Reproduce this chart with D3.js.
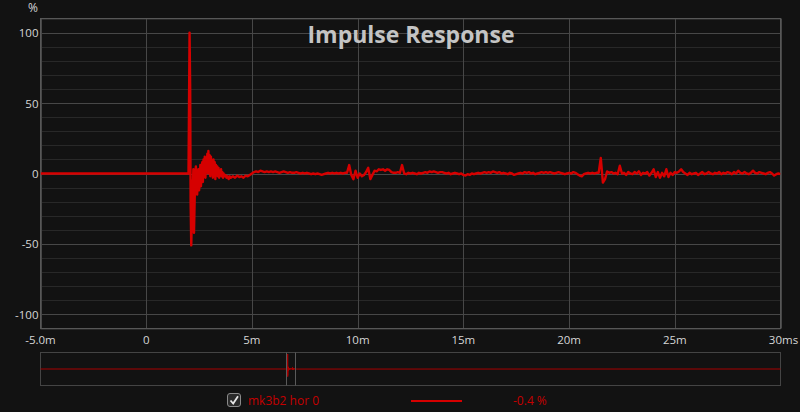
<!DOCTYPE html>
<html><head><meta charset="utf-8">
<script src="https://cdn.jsdelivr.net/npm/d3@7/dist/d3.min.js"></script>
<style>
body{margin:0;background:#121212;}
svg{display:block;font-family:"Open Sans","Noto Sans",sans-serif;}
</style>
</head><body>
<svg id="chart" width="800" height="412"></svg>
<script>
// ---------- DATA ----------
const title = "Impulse Response";
const yUnit = "%";
const xTicks = [-5, 0, 5, 10, 15, 20, 25, 30];
const xTickLabels = ["-5.0m", "0", "5m", "10m", "15m", "20m", "25m", "30ms"];
const yMajorTicks = [-100, -50, 0, 50, 100];
const yMajorLabels = ["-100", "-50", "0", "50", "100"];
const yMinorTicks = [-110, -90, -80, -70, -60, -40, -30, -20, -10, 10, 20, 30, 40, 60, 70, 80, 90, 110];
const xDomain = [-5, 30];
const yDomain = [-110, 110];
const overviewDomain = [-1000, 2000];

// pre-impulse (flat)
const preTimes = [-5.0, 2.0];
const preValues = [0, 0];

// impulse & early decay (ms, %)
const earlyTimes = [2.02, 2.05, 2.08, 2.10, 2.13, 2.16, 2.18, 2.20, 2.23, 2.26, 2.29, 2.32, 2.35, 2.38, 2.41, 2.44, 2.47, 2.50,
  2.53, 2.56, 2.59, 2.62, 2.65, 2.68, 2.71, 2.74, 2.77, 2.80, 2.83, 2.86, 2.89, 2.92, 2.94, 2.97, 3.00, 3.03, 3.06, 3.09,
  3.12, 3.15, 3.18, 3.21, 3.24, 3.27, 3.30, 3.33, 3.36, 3.39, 3.42, 3.45, 3.48, 3.51, 3.54, 3.57, 3.60, 3.63, 3.66, 3.70,
  3.75, 3.80, 3.85, 3.90, 3.95];
const earlyValues = [40, 100, 60, -20, -51, -30, -5, -12, 3, -42, -20, 0, 5, -8, -15, -3, 3, -12,
  -5, 6, -9, 2, 8, -6, 10, -2, 12, -3, 11, 4, 14, 0, 16, 2, 13, -2, 12, 1,
  9, -3, 10, 2, 8, -4, 6, 0, 5, -2, 4, -3, 2, -1, 3, -2, 1, -3, 0, -2,
  -1, -3, -2, -4, -2];

// tail, sampled every 0.1 ms from 4.0 ms to 30.0 ms
const tailStart = 4.0;
const tailStep = 0.1;
const tailValues = [
  -3, -2, -3, -1.5, -2.5, -2, -3, -1.5, -2, -1,          // 4
  0, 1, 1.5, 1, 2, 1.5, 1, 1.5, 1, 1.5,                  // 5
  1, 1.5, 1, 0.5, 1, 1.5, 1, 0.5, 1, 0.5,                // 6
  0.5, 1, 0.5, 0, 0.5, 0, 0.5, 0, -0.5, 0,               // 7
  -0.5, 0, -0.5, -1, -0.5, 0, 0.5, 0, 0.5, 0,            // 8
  0.5, 0, 0.5, 0, 0.5, 0.5, 6, -1, -4, 2,                // 9
  -3, 0, -2, -1, 1, 4, -4, -1, 2, 1.5,                   // 10
  3, 2.5, 3, 2, 3, 2.5, 1, 0.5, 0.5, 1,                  // 11
  0.5, 6, 0, -0.5, 0.5, 0, 0.5, 0, -0.5, 0.5,            // 12
  0, 0.5, 1, 0.5, 1.5, 1, 1.5, 1, 0.5, 1,                // 13
  1, 0.5, 0, 0.5, -0.5, 0, 0.5, 0, -0.5, 0,              // 14
  -1, -1.5, -0.5, -1, 0, -0.5, 0, 0.5, 0, 0.5,           // 15
  1, 0.5, 1, 0.5, 1.5, 1, 0.5, 1, 0, 0.5,                // 16
  0, -0.5, 0.5, 0, -1, -0.5, 0, 0.5, 0, 1,               // 17
  0.5, 1, 0, 0.5, -0.5, 0, 0.5, 1, 0.5, 1,               // 18
  0.5, 1, 0.5, 0, 0.5, 1, 0.5, 0, -0.5, 0,               // 19
  0.5, 0, 1, 0.5, -0.5, -1.5, -2, -0.5, 0, 0.5,          // 20
  0, 0.5, 0, 0.5, 0.5, 11, -6.5, -4, 1.5, 0.5,           // 21
  1, 0, 0.5, -0.5, 5.5, 0, 0.5, -1, 1, 0,                // 22
  -0.5, 1, 0, 1.5, -1, 0.5, 0, 1, -1.5, 0.5,             // 23
  3, -2.5, 1, -3, 0.5, -2, 3, -2.5, 0.5, -1,             // 24
  1, 0.5, 1.5, 3, 1, 0, -1, 0.5, -0.5, 0,                // 25
  0.5, -1, 0, 1, -0.5, 0, 1, 0, -0.5, 0.5,               // 26
  0, 1, -0.5, 0.5, 0, 1, 0.5, -0.5, 1, 0,                // 27
  2, 0.5, 0, 1, 0, -0.5, 0.5, 2, 0.5, 0,                 // 28
  1, 0.5, 0, -0.5, 0.5, 1, 0, -1.5, -0.5, 0,             // 29
  -0.4                                                   // 30
];

const legendName = "mk3b2 hor 0";
const legendValue = "-0.4 %";

// ---------- BUILD SERIES ----------
const series = [];
preTimes.forEach((t, i) => series.push([t, preValues[i]]));
earlyTimes.forEach((t, i) => series.push([t, earlyValues[i]]));
tailValues.forEach((v, i) => series.push([+(tailStart + i * tailStep).toFixed(2), v]));

// ---------- DRAW ----------
const svg = d3.select("#chart");
const W = 800, H = 412;
const plot = {left: 40.5, right: 780.5, top: 18.5, bottom: 328.5};
const ov = {top: 352.5, bottom: 385.5};

const colGridMajor = "#474747", colGridMinor = "#282828", colFrame = "#575757";
const colText = "#d6d6d6", colLine = "#d60000";

svg.append("rect").attr("width", W).attr("height", H).attr("fill", "#121212");

const x = d3.scaleLinear().domain(xDomain).range([plot.left, plot.right]);
const y = d3.scaleLinear().domain(yDomain).range([plot.bottom, plot.top]);

// minor horizontal grid
svg.append("g").selectAll("line").data(yMinorTicks).join("line")
  .attr("x1", plot.left).attr("x2", plot.right)
  .attr("y1", d => Math.round(y(d)) + 0.5).attr("y2", d => Math.round(y(d)) + 0.5)
  .attr("stroke", colGridMinor).attr("stroke-width", 1);

// major horizontal grid
svg.append("g").selectAll("line").data(yMajorTicks).join("line")
  .attr("x1", plot.left).attr("x2", plot.right)
  .attr("y1", d => Math.round(y(d)) + 0.5).attr("y2", d => Math.round(y(d)) + 0.5)
  .attr("stroke", colGridMajor).attr("stroke-width", 1);

// vertical grid
svg.append("g").selectAll("line").data(xTicks).join("line")
  .attr("x1", d => Math.round(x(d)) + 0.5).attr("x2", d => Math.round(x(d)) + 0.5)
  .attr("y1", plot.top).attr("y2", plot.bottom)
  .attr("stroke", colGridMajor).attr("stroke-width", 1);

// frame
svg.append("rect").attr("x", plot.left).attr("y", plot.top)
  .attr("width", plot.right - plot.left).attr("height", plot.bottom - plot.top)
  .attr("fill", "none").attr("stroke", colFrame).attr("stroke-width", 1);

// title
svg.append("text").attr("x", 411).attr("y", 42.5).attr("text-anchor", "middle")
  .attr("font-size", 23).attr("font-weight", "bold").attr("fill", "#c4c4c4")
  .text(title);

// y labels
svg.append("g").selectAll("text").data(yMajorTicks).join("text")
  .attr("x", 38.5).attr("y", d => y(d) + 4.5).attr("text-anchor", "end")
  .attr("font-size", 11.5).attr("fill", colText)
  .text((d, i) => yMajorLabels[i]);
svg.append("text").attr("x", 33).attr("y", 12).attr("text-anchor", "middle")
  .attr("font-size", 12).attr("fill", colText).text(yUnit);

// x labels
svg.append("g").selectAll("text").data(xTicks).join("text")
  .attr("x", (d, i) => x(d) + (i === xTicks.length - 1 ? 3 : 0)).attr("y", 344)
  .attr("text-anchor", "middle")
  .attr("font-size", 11.5).attr("fill", colText)
  .text((d, i) => xTickLabels[i]);

// main line
svg.append("clipPath").attr("id", "pc").append("rect")
  .attr("x", plot.left).attr("y", plot.top)
  .attr("width", plot.right - plot.left).attr("height", plot.bottom - plot.top);
const line = d3.line().x(d => x(d[0])).y(d => y(d[1]));
svg.append("path").datum(series).attr("clip-path", "url(#pc)")
  .attr("d", line).attr("fill", "none").attr("stroke", colLine)
  .attr("stroke-width", 2.4).attr("stroke-linejoin", "round");

// ---------- OVERVIEW ----------
const xo = d3.scaleLinear().domain(overviewDomain).range([plot.left, plot.right]);
const yo = d3.scaleLinear().domain(yDomain).range([ov.bottom, ov.top]);
svg.append("rect").attr("x", plot.left).attr("y", ov.top)
  .attr("width", plot.right - plot.left).attr("height", ov.bottom - ov.top)
  .attr("fill", "none").attr("stroke", "#444").attr("stroke-width", 1);
const ovSeries = [[overviewDomain[0], 0]].concat(series, [[overviewDomain[1], 0]]);
svg.append("path").datum(ovSeries)
  .attr("d", d3.line().x(d => xo(d[0])).y(d => yo(d[1])))
  .attr("fill", "none").attr("stroke", "#a80000").attr("stroke-width", 1);
svg.append("g").selectAll("line").data(xDomain).join("line")
  .attr("x1", d => Math.round(xo(d)) + 0.5).attr("x2", d => Math.round(xo(d)) + 0.5)
  .attr("y1", ov.top).attr("y2", ov.bottom)
  .attr("stroke", "#5a5a5a").attr("stroke-width", 1);

// ---------- LEGEND ----------
const lg = svg.append("g");
lg.append("rect").attr("x", 227.5).attr("y", 393.5).attr("width", 13).attr("height", 13)
  .attr("rx", 2.5).attr("fill", "#2a2a2a").attr("stroke", "#8a8a8a").attr("stroke-width", 1);
lg.append("path").attr("d", "M230.5,400.5 L233.2,403.5 L238,396.2")
  .attr("fill", "none").attr("stroke", "#e8e8e8").attr("stroke-width", 1.8);
lg.append("text").attr("x", 248).attr("y", 405).attr("font-size", 12)
  .attr("fill", "#c40000").text(legendName);
lg.append("line").attr("x1", 411).attr("x2", 462).attr("y1", 401).attr("y2", 401)
  .attr("stroke", colLine).attr("stroke-width", 2);
lg.append("text").attr("x", 513).attr("y", 405).attr("font-size", 12)
  .attr("fill", "#c40000").text(legendValue);
</script>
</body></html>
